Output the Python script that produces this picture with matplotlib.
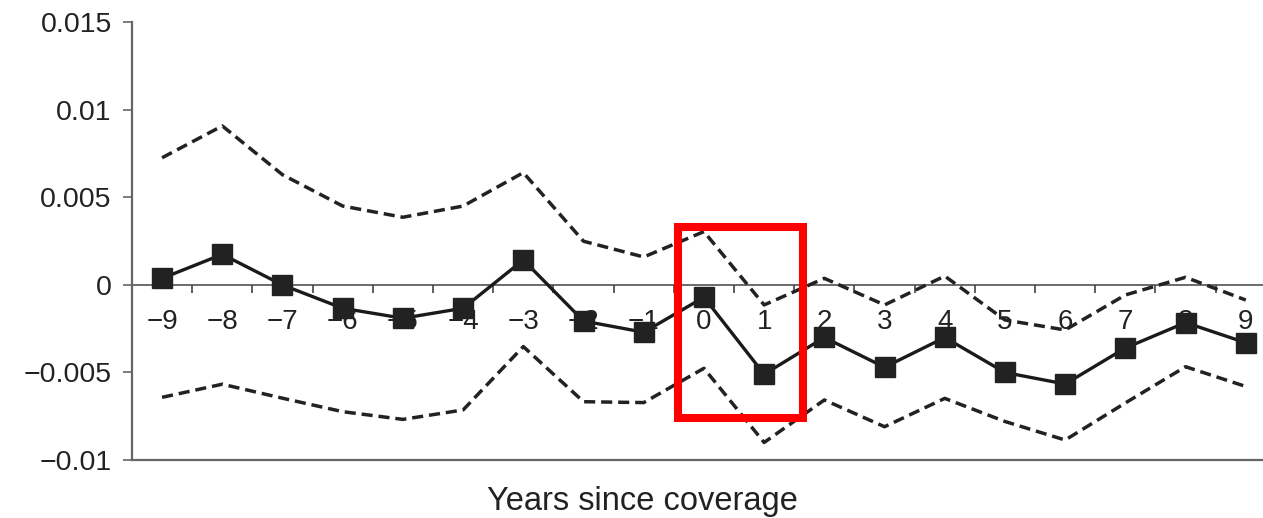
import matplotlib
matplotlib.use('Agg')
import matplotlib.pyplot as plt
from matplotlib.patches import Rectangle
from matplotlib.ticker import FixedLocator, FixedFormatter

plt.rcParams['font.family'] = ['Liberation Sans', 'DejaVu Sans']

# data
years = [-9, -8, -7, -6, -5, -4, -3, -2, -1, 0, 1, 2, 3, 4, 5, 6, 7, 8, 9]
estimate = [0.00038, 0.00175, 0.0, -0.00133, -0.0019, -0.00133, 0.00143,
            -0.00206, -0.0027, -0.0007, -0.0051, -0.003, -0.0047, -0.003,
            -0.005, -0.00566, -0.0036, -0.00215, -0.0033]
upper = [0.00727, 0.00909, 0.0063, 0.00451, 0.00387, 0.00451, 0.00642,
         0.0025, 0.0016, 0.00305, -0.00114, 0.00038, -0.00114, 0.00051,
         -0.002, -0.00257, -0.00057, 0.00044, -0.00086]
lower = [-0.00642, -0.00567, -0.00647, -0.00724, -0.00768, -0.00714, -0.00352,
         -0.00667, -0.00672, -0.00476, -0.009, -0.00657, -0.0081, -0.00648,
         -0.0078, -0.00886, -0.00674, -0.00467, -0.0058]
ytick_vals = [-0.01, -0.005, 0, 0.005, 0.01, 0.015]
ytick_labels = ['\u22120.01', '\u22120.005', '0', '0.005', '0.01', '0.015']
xtick_labels = [('\u2212%d' % -y) if y < 0 else str(y) for y in years]
xlabel = 'Years since coverage'

# highlighted region (x from, x to, y from, y to)
box = (-0.437, 1.648, -0.0076, 0.00329)

fig = plt.figure(figsize=(12.63, 5.18), dpi=100)
ax = fig.add_axes([0.1045, 0.112, 0.9057, 0.8446])

ax.plot(years, upper, color='#222222', lw=2.5, dashes=(3.2, 1.7), zorder=3)
ax.plot(years, lower, color='#222222', lw=2.5, dashes=(3.2, 1.7), zorder=3)
ax.plot(years, estimate, color='#1a1a1a', lw=2.4, marker='s', ms=15,
        markerfacecolor='#222222', markeredgecolor='#222222', zorder=4)

ax.set_xlim(-9.5, 9.5)
ax.set_ylim(-0.01, 0.015)

# spines: bottom spine sits on zero, top spine used as the floor line
ax.spines['right'].set_visible(False)
ax.spines['bottom'].set_position(('data', 0))
ax.spines['top'].set_position(('data', -0.01))
for s in ['left', 'top']:
    ax.spines[s].set_color('#666666')
    ax.spines[s].set_linewidth(1.6)
ax.spines['bottom'].set_color('#444444')
ax.spines['bottom'].set_linewidth(1.1)
ax.spines['bottom'].set_zorder(2)

ax.yaxis.set_major_locator(FixedLocator(ytick_vals))
ax.yaxis.set_major_formatter(FixedFormatter(ytick_labels))
ax.tick_params(axis='y', direction='out', length=6.5, width=1.2,
               color='#666666', labelsize=20.5, pad=8, labelcolor='#222222')

ax.xaxis.set_major_locator(FixedLocator(years))
ax.xaxis.set_major_formatter(FixedFormatter(xtick_labels))
ax.xaxis.set_minor_locator(FixedLocator([y + 0.5 for y in years[:-1]]))
ax.tick_params(axis='x', which='major', length=0, labelsize=20, pad=17,
               labelcolor='#222222')
ax.tick_params(axis='x', which='minor', direction='out', length=6, width=1.2,
               color='#444444')
ax.tick_params(top=False, labeltop=False)

fig.text(0.509, 0.0154, xlabel, ha='center', va='baseline', fontsize=23.5,
         color='#222222')

rect = Rectangle((box[0], box[2]), box[1] - box[0], box[3] - box[2],
                 fill=False, edgecolor='#ff0000', lw=5.8, zorder=6,
                 clip_on=False)
ax.add_patch(rect)

fig.savefig('out.png', dpi=100)
